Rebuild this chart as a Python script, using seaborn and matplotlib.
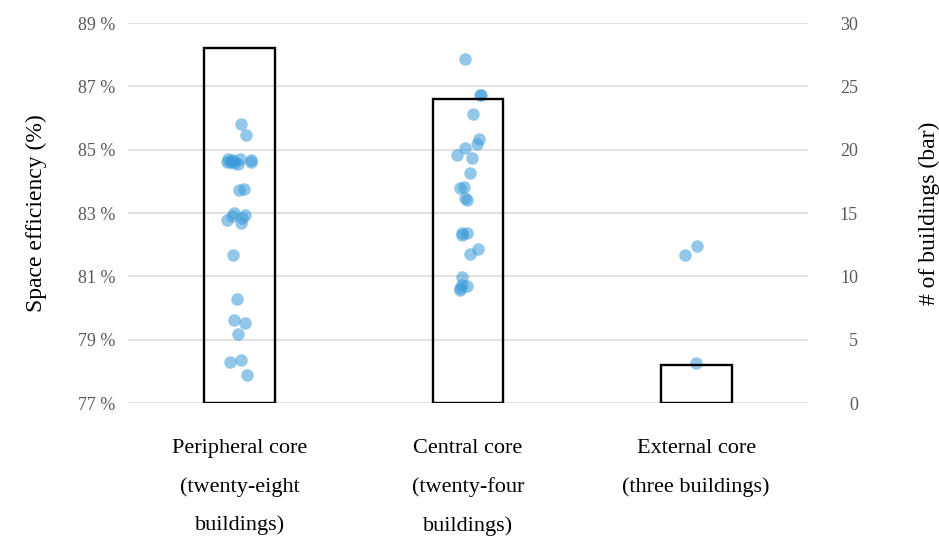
import numpy as np
import pandas as pd
import matplotlib
matplotlib.use("Agg")
import matplotlib.pyplot as plt
import seaborn as sns

# ---------------- data ----------------
categories = [
    "Peripheral core\n(twenty-eight\nbuildings)",
    "Central core\n(twenty-four\nbuildings)",
    "External core\n(three buildings)",
]
building_counts = [28, 24, 3]

peripheral_eff = [85.80, 85.46,
                  84.64, 84.70, 84.62, 84.68, 84.60, 84.66, 84.72, 84.55, 84.62,
                  83.73, 83.75,
                  83.00, 82.95, 82.84, 82.78, 82.68,
                  81.67, 80.29, 79.62, 79.53, 79.18, 78.29, 78.36, 77.89,
                  84.58, 82.92]
central_eff = [87.85, 86.73, 86.73, 86.13,
               85.34, 85.18, 85.05, 84.83, 84.74, 84.26,
               83.82, 83.79, 83.47, 83.41,
               82.31, 82.37, 82.37, 81.86, 81.71,
               80.98, 80.73, 80.70, 80.57, 80.63]
external_eff = [81.96, 81.67, 78.27]

left_ticks = [77, 79, 81, 83, 85, 87, 89]
right_ticks = [0, 5, 10, 15, 20, 25, 30]

points = pd.DataFrame({
    "category": [categories[0]] * len(peripheral_eff)
                + [categories[1]] * len(central_eff)
                + [categories[2]] * len(external_eff),
    "efficiency": peripheral_eff + central_eff + external_eff,
})
bars = pd.DataFrame({"category": categories, "count": building_counts})

# ---------------- style ----------------
sns.set_theme(style="white")
plt.rcParams["font.family"] = ["Liberation Serif", "DejaVu Serif"]

fig = plt.figure(figsize=(9.39, 5.43), dpi=100)
ax = fig.add_axes([0.1363, 0.2578, 0.7242, 0.6998])

np.random.seed(3)
sns.stripplot(data=points, x="category", y="efficiency", order=categories,
              jitter=0.06, color="#3a9ad9", alpha=0.55, size=9,
              linewidth=0, ax=ax, zorder=3)

ax2 = ax.twinx()
sns.barplot(data=bars, x="category", y="count", order=categories,
            fill=False, edgecolor="black", linewidth=1.7, width=0.31,
            errorbar=None, ax=ax2)

ax.set_ylim(77, 89)
ax.set_yticks(left_ticks)
ax.set_yticklabels([f"{t} %" for t in left_ticks])
ax2.set_ylim(0, 30)
ax2.set_yticks(right_ticks)
ax2.set_yticklabels([str(t) for t in right_ticks])
ax.set_xlim(-0.49, 2.49)

ax.yaxis.grid(True, color="#d9d9d9", linewidth=1.1)
ax.set_axisbelow(True)
for a in (ax, ax2):
    for s in a.spines.values():
        s.set_visible(False)

ax.tick_params(axis="y", length=0, pad=9, labelsize=13, labelcolor="#595959")
ax2.tick_params(axis="y", length=0, pad=36, labelsize=13, labelcolor="#595959")
for t in ax2.get_yticklabels():
    t.set_horizontalalignment("right")

ax.tick_params(axis="x", length=0, pad=26, labelsize=16, labelcolor="black")
for t in ax.get_xticklabels():
    t.set_linespacing(2.28)
    t.set_verticalalignment("top")

ax.set_xlabel("")
ax2.set_xlabel("")
ax.set_ylabel("Space efficiency (%)", fontsize=17, color="black", labelpad=22)
ax2.set_ylabel("# of buildings (bar)", fontsize=17, color="black",
               rotation=90, labelpad=44)

fig.savefig("out.png", dpi=100)
